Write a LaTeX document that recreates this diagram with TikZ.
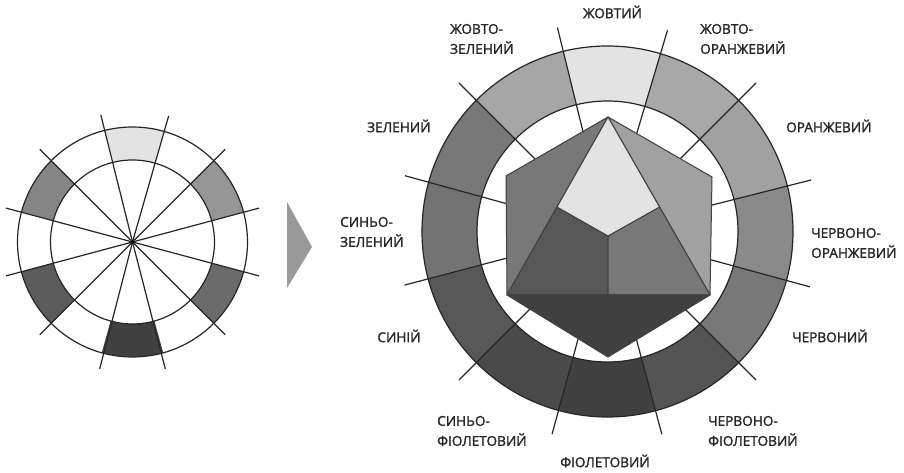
\documentclass[tikz,border=0pt]{standalone}
\usepackage{fontspec}
\setmainfont{Open Sans}[FakeBold=1.6]
\tikzset{
  ring/.style={line width=1.2pt,draw=black!85},
  spoke/.style={line width=1.2pt,draw=black!85},
  facet/.style={line width=1pt,draw=black!75,line join=round},
  lbl/.style={font=\fontsize{13.6}{20}\selectfont,text=black!85,inner sep=0pt,align=left}
}
\definecolor{cY}{gray}{0.89}
\definecolor{cYO}{gray}{0.66}
\definecolor{cO}{gray}{0.63}
\definecolor{cRO}{gray}{0.54}
\definecolor{cR}{gray}{0.47}
\definecolor{cRV}{gray}{0.33}
\definecolor{cV}{gray}{0.25}
\definecolor{cBV}{gray}{0.29}
\definecolor{cB}{gray}{0.34}
\definecolor{cBG}{gray}{0.45}
\definecolor{cG}{gray}{0.47}
\definecolor{cYG}{gray}{0.65}
\definecolor{sRV}{gray}{0.42}
\definecolor{sB}{gray}{0.36}
\definecolor{sG}{gray}{0.52}
\definecolor{sO}{gray}{0.59}
\begin{document}
\begin{tikzpicture}[x=1pt,y=1pt]
\useasboundingbox (0,0) rectangle (904,473);
\fill[white] (0,0) rectangle (904,473);
% ---- small wheel
\begin{scope}[shift={(132.5,231)}]
  \foreach \a/\b/\c in {104/74/cY,45/15/sO,-15/-45/sRV,-74.5/-105.5/cV,-135/-165/sB,165/135/sG}{
    \fill[\c] (\a:115pt) arc[start angle=\a,end angle=\b,radius=115pt] -- (\b:82pt) arc[start angle=\b,end angle=\a,radius=82pt] -- cycle;
  }
  \foreach \a in {104,74,45,15,-15,-45,-75.5,-104.5,-135,-165,165,135}{
    \draw[spoke] (0,0) -- (\a:131pt);
  }
  \draw[ring] (0,0) circle[radius=115pt];
  \draw[ring] (0,0) circle[radius=82pt];
  \fill[black] (0,0) circle[radius=1.8pt];
\end{scope}
% ---- arrow
\fill[gray!80] (287,271) -- (312,226) -- (287,185) -- cycle;
% ---- large wheel
\begin{scope}[shift={(607.5,241.5)}]
  \foreach \a/\b/\c in {103.8/73.4/cY,73.4/45/cYO,45/14.2/cO,14.2/-15.3/cRO,-15.3/-45/cR,-45/-75/cRV,-75/-105.3/cV,-105.3/-135/cBV,-135/-165.2/cB,-165.2/-195.4/cBG,164.6/135/cG,135/103.8/cYG}{
    \fill[\c] (\a:185.5pt) arc[start angle=\a,end angle=\b,radius=185.5pt] -- (\b:130.5pt) arc[start angle=\b,end angle=\a,radius=130.5pt] -- cycle;
  }
  \foreach \a in {103.8,73.4,45,14.2,-15.3,-45,-75,-105.3,-135,-165.2,164.6,135}{
    \draw[spoke] (0,0) -- (\a:210pt);
  }
  \draw[ring] (0,0) circle[radius=185.5pt];
  \draw[ring] (0,0) circle[radius=130.5pt];
\end{scope}
% ---- hexagon
\coordinate (T) at (608,356);
\coordinate (L) at (506,297);
\coordinate (R) at (712,296);
\coordinate (BL) at (507,178);
\coordinate (BR) at (710,178);
\coordinate (Bot) at (608,116);
\coordinate (C) at (608,237);
\coordinate (PL) at (557,266);
\coordinate (PR) at (659.5,266);
\coordinate (BC) at (608,178);
\fill[white] (T)--(R)--(BR)--(Bot)--(BL)--(L)--cycle;
\filldraw[facet,fill=cG] (T)--(L)--(BL)--cycle;
\filldraw[facet,fill=cO] (T)--(R)--(BR)--cycle;
\filldraw[facet,fill=cB] (PL)--(C)--(BC)--(BL)--cycle;
\filldraw[facet,fill=cR] (PR)--(C)--(BC)--(BR)--cycle;
\filldraw[facet,fill=cY] (T)--(PR)--(C)--(PL)--cycle;
\filldraw[facet,fill=cV] (BL)--(BR)--(Bot)--cycle;
% ---- labels
\node[lbl,anchor=center] (ly) at (612.5,461) {ЖОВТИЙ};
\node[lbl,anchor=west] (lyg) at (450,434) {ЖОВТО-\\ЗЕЛЕНИЙ};
\node[lbl,anchor=west] (lyo) at (700,434) {ЖОВТО-\\ОРАНЖЕВИЙ};
\node[lbl,anchor=west] (lg) at (367,347) {ЗЕЛЕНИЙ};
\node[lbl,anchor=west] (lo) at (786,347) {ОРАНЖЕВИЙ};
\node[lbl,anchor=west] (lbg) at (340,241) {СИНЬО-\\ЗЕЛЕНИЙ};
\node[lbl,anchor=west] (lro) at (811,230) {ЧЕРВОНО-\\ОРАНЖЕВИЙ};
\node[lbl,anchor=center] (lb) at (399,137) {СИНІЙ};
\node[lbl,anchor=west] (lr) at (792,137) {ЧЕРВОНИЙ};
\node[lbl,anchor=west] (lbv) at (437,42) {СИНЬО-\\ФІОЛЕТОВИЙ};
\node[lbl,anchor=west] (lrv) at (708,42) {ЧЕРВОНО-\\ФІОЛЕТОВИЙ};
\node[lbl,anchor=center] (lv) at (605,12) {ФІОЛЕТОВИЙ};
\end{tikzpicture}
\end{document}
